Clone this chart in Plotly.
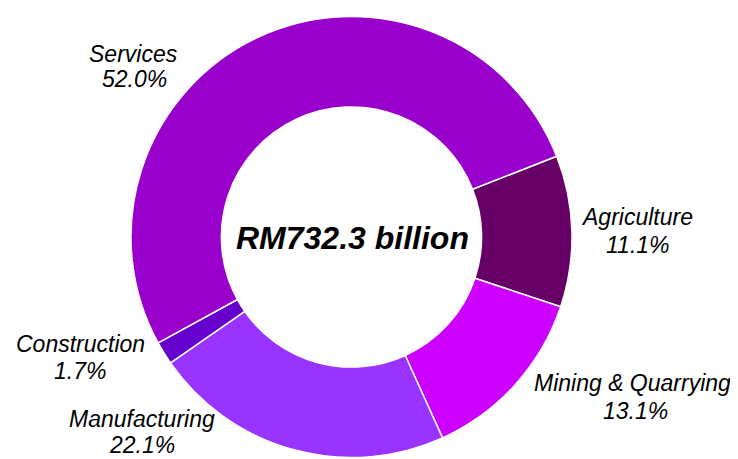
import plotly.graph_objects as go

sectors = ["Agriculture", "Mining & Quarrying", "Manufacturing", "Construction", "Services"]
shares = [11.1, 13.1, 22.1, 1.7, 52.0]
colors = ["#660066", "#CC00FF", "#9933FF", "#6600CC", "#9900CC"]
total_label = "RM732.3 billion"

# The page body adds an 8px margin; work in window pixels and offset.
OFF = 8
W, H = 738 - OFF, 459 - OFF
cx, cy, R = 351.5 - OFF, 237 - OFF, 220.5

fig = go.Figure(go.Pie(
    labels=sectors,
    values=shares,
    sort=False,
    direction="clockwise",
    rotation=68.5,
    hole=0.59,
    marker=dict(colors=colors, line=dict(color="white", width=1.5)),
    textinfo="none",
    hoverinfo="label+percent",
    showlegend=False,
    domain=dict(x=[(cx - R) / W, (cx + R) / W], y=[1 - (cy + R) / H, 1 - (cy - R) / H]),
))

# label line centers in window pixels: (name x, name y, pct x, pct y)
label_pos = {
    "Agriculture": (637, 217, 638, 245),
    "Mining & Quarrying": (632, 383, 635, 411),
    "Manufacturing": (142, 419, 142, 445),
    "Construction": (80, 344, 80, 371),
    "Services": (133, 54, 134, 79),
}
font = "Arial, Liberation Sans, sans-serif"


def ann(px, py, text, size):
    return dict(
        x=(px - OFF) / W, y=1 - (py - OFF) / H, xref="paper", yref="paper",
        xanchor="center", yanchor="middle", showarrow=False,
        text=text, font=dict(family=font, size=size, color="#000000"),
    )


annotations = []
for name, val in zip(sectors, shares):
    nx, ny, qx, qy = label_pos[name]
    annotations.append(ann(nx, ny, f"<i>{name}</i>", 23))
    annotations.append(ann(qx, qy, f"<i>{val:.1f}%</i>", 23))
annotations.append(ann(352, 238, f"<b><i>{total_label}</i></b>", 32))

fig.update_layout(
    width=W, height=H,
    margin=dict(l=0, r=0, t=0, b=0),
    paper_bgcolor="white", plot_bgcolor="white",
    annotations=annotations,
)
fig.write_html("out.html")
